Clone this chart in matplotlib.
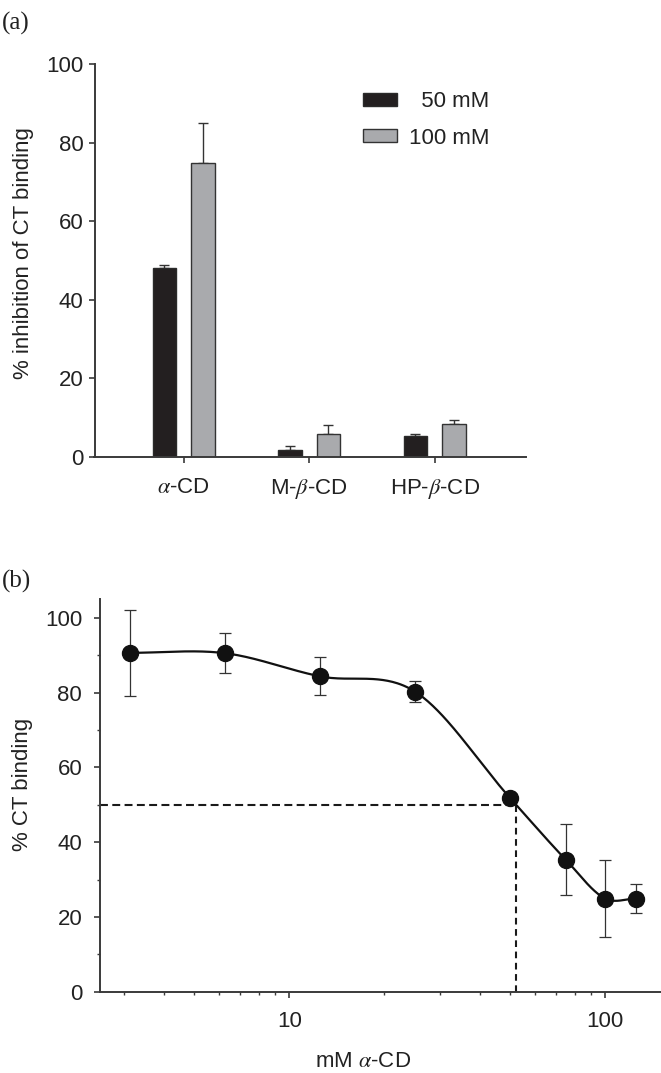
import numpy as np
import matplotlib
matplotlib.use("Agg")
import matplotlib.pyplot as plt
from matplotlib.ticker import LogLocator, NullFormatter, FixedLocator

# ---------------- data ----------------
# Panel (a)
categories = [r"$\alpha$-CD", r"M-$\beta$-CD", r"HP-$\beta$-CD"]
inhib_50 = [48.0, 1.7, 5.3]
inhib_50_err = [0.7, 1.0, 0.6]
inhib_100 = [74.8, 5.7, 8.2]
inhib_100_err = [10.3, 2.3, 1.1]
legend_labels = ["  50 mM", "100 mM"]

# Panel (b)
conc_mM = [3.125, 6.25, 12.5, 25, 50, 75, 100, 125]
binding = [90.7, 90.6, 84.4, 80.3, 51.8, 35.3, 24.9, 24.9]
binding_err = [11.5, 5.3, 5.1, 2.8, 0.5, 9.5, 10.3, 3.9]
ic50 = 52.1
half_level = 50

# ---------------- style ----------------
FS = 16
plt.rcParams['font.family'] = ['Liberation Sans', 'DejaVu Sans']
plt.rcParams['mathtext.fontset'] = 'stix'
plt.rcParams['font.size'] = FS
TXT = '#222222'
SP = '#3a3a3a'
plt.rcParams['text.color'] = TXT
plt.rcParams['axes.labelcolor'] = TXT
plt.rcParams['xtick.color'] = SP
plt.rcParams['ytick.color'] = SP
plt.rcParams['xtick.labelcolor'] = TXT
plt.rcParams['ytick.labelcolor'] = TXT

W, H = 661, 1073
fig = plt.figure(figsize=(W / 100, H / 100), dpi=100)

def fx(px):
    return px / W

def fy(py):
    return 1 - py / H

# ---------------- panel (a) ----------------
axa = fig.add_axes([fx(94.5), fy(456.7), fx(526 - 94.5), (456.7 - 64) / H])
idx = np.arange(len(categories))
off, bw = 0.154, 0.187
black = '#231f20'
gray = '#a9aaad'
axa.bar(idx - off, inhib_50, bw, color=black, edgecolor='#2a2a2a', linewidth=1.0,
        label=legend_labels[0], zorder=2)
axa.bar(idx + off, inhib_100, bw, color=gray, edgecolor='#333333', linewidth=1.0,
        label=legend_labels[1], zorder=2)
axa.errorbar(idx - off, inhib_50, yerr=[np.zeros(3), inhib_50_err], fmt='none',
             ecolor='#333333', elinewidth=1.0, capsize=3.8, capthick=1.0, zorder=1)
axa.errorbar(idx + off, inhib_100, yerr=[np.zeros(3), inhib_100_err], fmt='none',
             ecolor='#333333', elinewidth=1.0, capsize=3.8, capthick=1.0, zorder=1)
axa.set_xlim(-0.710, 2.728)
axa.set_ylim(0, 100)
axa.set_yticks([0, 20, 40, 60, 80, 100])
axa.set_xticks(idx)
axa.set_xticklabels(categories)
for s in ['top', 'right']:
    axa.spines[s].set_visible(False)
for s in ['left', 'bottom']:
    axa.spines[s].set_color(SP)
    axa.spines[s].set_linewidth(1.4)
axa.tick_params(axis='y', length=4.3, width=1.2, pad=3.5, labelsize=FS)
axa.tick_params(axis='x', length=4.3, width=1.2, pad=10.0, labelsize=FS)
axa.set_ylabel('% inhibition of CT binding', fontsize=FS)
axa.yaxis.set_label_coords(-0.141, 0.519)
axa.legend(loc='upper left', bbox_to_anchor=(0.6216, 0.93), frameon=False,
           handlelength=1.55, handleheight=0.55, handletextpad=0.55,
           labelspacing=0.68, borderpad=0, borderaxespad=0, fontsize=FS)

fig.text(fx(2), fy(30), '(a)', fontsize=18, family='Liberation Serif',
         va='baseline', ha='left')

# ---------------- panel (b) ----------------
axb = fig.add_axes([fx(100), fy(991.6), fx(661 - 100), (991.6 - 599.4) / H])
axb.set_xscale('log')

# smooth curve through points (cubic Hermite in log-x)
lx = np.log10(np.array(conc_mM, dtype=float))
yy = np.array(binding, dtype=float)
sec = np.diff(yy) / np.diff(lx)
m = np.empty_like(yy)
m[0] = sec[0]
m[-1] = sec[-1]
m[1:-1] = (sec[:-1] + sec[1:]) / 2
xs_all, ys_all = [], []
for i in range(len(lx) - 1):
    t = np.linspace(0, 1, 60)
    h = lx[i + 1] - lx[i]
    h00 = 2 * t**3 - 3 * t**2 + 1
    h10 = t**3 - 2 * t**2 + t
    h01 = -2 * t**3 + 3 * t**2
    h11 = t**3 - t**2
    ys_all.append(h00 * yy[i] + h10 * h * m[i] + h01 * yy[i + 1] + h11 * h * m[i + 1])
    xs_all.append(lx[i] + t * h)
xs_all = 10 ** np.concatenate(xs_all)
ys_all = np.concatenate(ys_all)

xmin, xmax = 2.514, 150.1
# dashed guide lines
axb.plot([xmin, ic50], [half_level, half_level], color='#1a1a1a', lw=1.5,
         ls=(0, (3.8, 2.1)), zorder=1)
axb.plot([ic50, ic50], [0, half_level], color='#1a1a1a', lw=1.5,
         ls=(0, (3.2, 2.2)), zorder=1)

axb.plot(xs_all, ys_all, color='#111111', lw=1.6, zorder=2)
axb.errorbar(conc_mM, binding, yerr=binding_err, fmt='none', ecolor='#333333',
             elinewidth=0.9, capsize=4.6, capthick=0.9, zorder=3)
axb.plot(conc_mM, binding, 'o', color='#111111', markersize=11.5, zorder=4)

axb.set_xlim(xmin, xmax)
axb.set_ylim(0, 105)
axb.xaxis.set_major_locator(FixedLocator([10, 100]))
axb.set_xticklabels(['10', '100'])
axb.xaxis.set_minor_locator(LogLocator(base=10, subs=np.arange(2, 10), numticks=20))
axb.xaxis.set_minor_formatter(NullFormatter())
axb.set_yticks([0, 20, 40, 60, 80, 100])
axb.set_yticks([10, 30, 50, 70, 90], minor=True)
for s in ['top', 'right']:
    axb.spines[s].set_visible(False)
for s in ['left', 'bottom']:
    axb.spines[s].set_color(SP)
    axb.spines[s].set_linewidth(1.4)
axb.tick_params(which='major', length=4.3, width=1.2, labelsize=FS)
axb.tick_params(which='minor', length=2.5, width=1.0)
axb.tick_params(axis='y', which='major', pad=8.5)
axb.tick_params(axis='x', which='major', pad=10.0)
axb.set_ylabel('% CT binding', fontsize=FS)
axb.yaxis.set_label_coords(-0.120, 0.528)
axb.set_xlabel(r'mM $\alpha$-CD', fontsize=FS)
axb.xaxis.set_label_coords(0.468, -0.152)

fig.text(fx(2), fy(588), '(b)', fontsize=18, family='Liberation Serif',
         va='baseline', ha='left')

fig.savefig('out.png', dpi=100)
